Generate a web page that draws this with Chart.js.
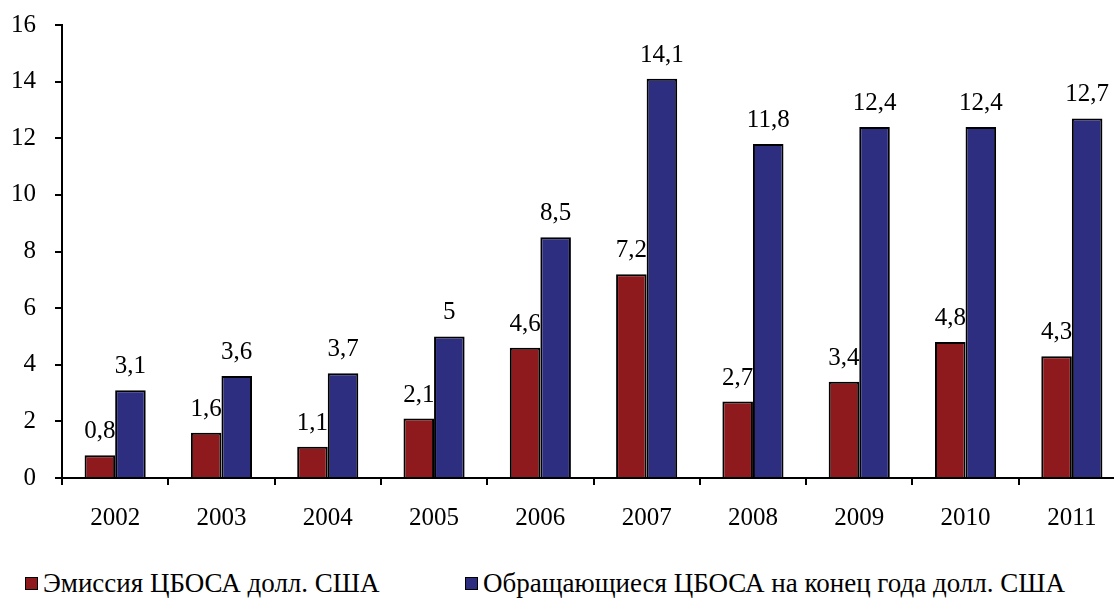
<!DOCTYPE html>
<html>
<head>
<meta charset="utf-8">
<script src="https://cdn.jsdelivr.net/npm/chart.js@4"></script>
<style>
body { margin:0; overflow:hidden; background:#fff; width:1114px; height:598px; position:relative; }
#wrap { position:absolute; left:0; top:-9px; width:1140px; height:549px; }
.leg { position:absolute; top:569px; font-family:'Liberation Serif', serif; font-size:27px; line-height:28px; color:#000; white-space:nowrap; }
.leg span { display:inline-block; width:11px; height:11px; border:1px solid #000; margin-right:5px; vertical-align:2px; }
</style>
</head>
<body>
<div id="wrap"><canvas id="grafik"></canvas></div>
<div class="leg" style="left:25px"><span style="background:#8E1A1E"></span>Эмиссия ЦБОСА долл. США</div>
<div class="leg" style="left:465px"><span style="background:#2E2E80"></span>Обращающиеся ЦБОСА на конец года долл. США</div>
<script>
var years = ['2002','2003','2004','2005','2006','2007','2008','2009','2010','2011'];
var emisi = [0.8, 1.6, 1.1, 2.1, 4.6, 7.2, 2.7, 3.4, 4.8, 4.3];
var beredar = [3.1, 3.6, 3.7, 5, 8.5, 14.1, 11.8, 12.4, 12.4, 12.7];
var yTicks = [0, 2, 4, 6, 8, 10, 12, 14, 16];

var huruf = "'Liberation Serif', 'Times New Roman', serif";

// tulis angka di atas batang
var labelBatang = {
	id: 'labelBatang',
	afterDatasetsDraw: function(chart){
		var ctx = chart.ctx;
		ctx.save();
		ctx.font = '25px ' + huruf;
		ctx.fillStyle = '#000';
		ctx.textAlign = 'center';
		ctx.textBaseline = 'alphabetic';
		chart.data.datasets.forEach(function(ds, i){
			var meta = chart.getDatasetMeta(i);
			meta.data.forEach(function(bar, j){
				var txt = String(ds.data[j]).replace('.', ',');
				ctx.fillText(txt, bar.x, bar.y - 17);
			});
		});
		ctx.restore();
	}
};

var ctx1 = document.getElementById('grafik').getContext('2d');
var myChart1 = new Chart(ctx1, {
	type: 'bar',
	data: {
		labels: years,
		datasets: [{
			label: 'Эмиссия ЦБОСА долл. США',
			data: emisi,
			backgroundColor: '#8E1A1E',
			borderColor: '#000',
			borderWidth: 2,
			categoryPercentage: 0.575,
			barPercentage: 1
		}, {
			label: 'Обращающиеся ЦБОСА на конец года долл. США',
			data: beredar,
			backgroundColor: '#2E2E80',
			borderColor: '#000',
			borderWidth: 2,
			categoryPercentage: 0.575,
			barPercentage: 1
		}]
	},
	options: {
		responsive: true,
		maintainAspectRatio: false,
		animation: false,
		layout: { padding: { top: 15, right: 15, left: 0, bottom: 0 } },
		plugins: { legend: { display: false }, tooltip: { enabled: false } },
		scales: {
			x: {
				offset: true,
				grid: { offset: true, drawOnChartArea: false, color: '#000', lineWidth: 2, tickLength: 7 },
				border: { display: true, color: '#000', width: 2 },
				ticks: { color: '#000', padding: 18, font: { family: huruf, size: 25 } },
				afterFit: function(s){ s.height = 62; }
			},
			y: {
				min: 0,
				max: 16,
				afterBuildTicks: function(s){ s.ticks = yTicks.map(function(v){ return { value: v }; }); },
				grid: { drawOnChartArea: false, color: '#000', lineWidth: 2, tickLength: 7 },
				border: { display: true, color: '#000', width: 2 },
				ticks: { color: '#000', padding: 19, font: { family: huruf, size: 25 } },
				afterFit: function(s){ s.width = 62; }
			}
		}
	},
	plugins: [labelBatang]
});
</script>
</body>
</html>
